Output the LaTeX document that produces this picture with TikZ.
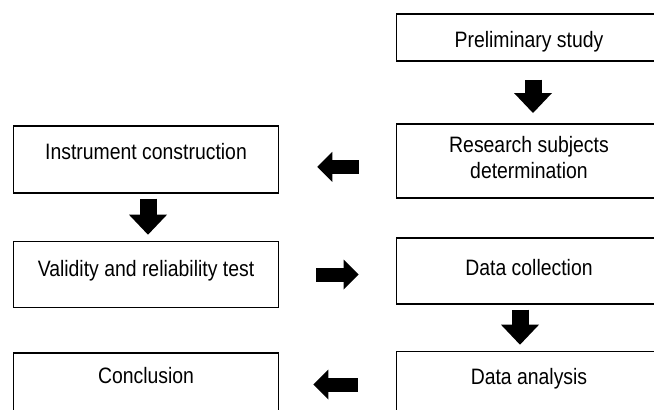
\documentclass[tikz,border=0pt]{standalone}
\usepackage{fontspec}
\setmainfont{Liberation Sans}[FakeStretch=0.87]
\usetikzlibrary{arrows.meta,positioning,calc}

\begin{document}
\begin{tikzpicture}[x=1pt, y=-1pt,
  box/.style={draw=black, line width=1.7pt, minimum width=265pt, inner sep=0pt, anchor=north, font=\fontsize{22.3}{26}\selectfont},
  varr/.style={line width=17pt, -{Triangle[length=20pt, width=38pt, line width=0pt]}},
  harr/.style={line width=14pt, -{Triangle[length=15pt, width=30pt, line width=0pt]}}]
\clip (0,0) rectangle (654,410);
\node[box, text height=34pt, text depth=13pt] (prelim) at (529,13) {Preliminary study};
\node[box, text height=29pt, text depth=45pt] (res) at (529,123) {\begin{tabular}[t]{c}Research subjects\\determination\end{tabular}};
\node[box, text height=34pt, text depth=33pt] (ins) at (146,125) {Instrument construction};
\node[box, text height=35pt, text depth=31pt, below=47pt of ins] (val) {Validity and reliability test};
\node[box, text height=38pt, text depth=28pt] (col) at (529,237) {Data collection};
\node[box, text height=33pt, text depth=33pt, below=46pt of col] (ana) {Data analysis};
\node[box, text height=31pt, text depth=35pt] (con) at (146,352) {Conclusion};
% block arrows between the steps
\draw[varr, shorten <=18pt, shorten >=10pt] ([xshift=4pt]prelim.south) -- ([xshift=4pt]res.north);
\draw[harr, shorten <=37pt, shorten >=38pt] ([yshift=-6pt]res.west) -- ([yshift=-6pt]res.west -| ins.east);
\draw[varr, shorten <=5pt, shorten >=6pt] ([xshift=2pt]ins.south) -- ([xshift=2pt]val.north);
\draw[harr, shorten <=37pt, shorten >=37pt] (val.east) -- (val.east -| col.west);
\draw[varr, shorten <=5pt, shorten >=6pt] ([xshift=-9pt]col.south) -- ([xshift=-9pt]ana.north);
\draw[harr, shorten <=38pt, shorten >=34pt] (ana.west) -- (ana.west -| con.east);
\end{tikzpicture}
\end{document}
